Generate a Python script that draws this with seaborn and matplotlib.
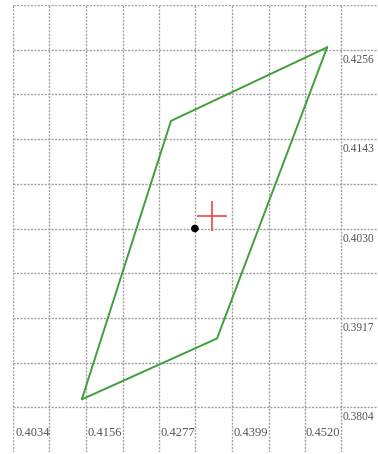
import numpy as np
import pandas as pd
import matplotlib
matplotlib.use("Agg")
import matplotlib.pyplot as plt
import seaborn as sns

# polygon outline (closed)
poly_x = [0.4559, 0.4298, 0.4149, 0.4375, 0.4559]
poly_y = [0.4259, 0.4166, 0.3814, 0.3891, 0.4259]

# black point and red cross
dot_x, dot_y = [0.4338], [0.4030]
cross_x, cross_y = [0.4366], [0.4046]

# labelled gridlines
x_ticks = [0.4034, 0.4156, 0.4277, 0.4399, 0.4520]
y_ticks = [0.3804, 0.3917, 0.4030, 0.4143, 0.4256]

sns.set_theme(style="white")
plt.rcParams['font.family'] = ['Liberation Serif', 'DejaVu Serif']

fig = plt.figure(figsize=(3.78, 4.54), dpi=100)
ax = fig.add_axes([13 / 378, 2 / 454, 365 / 378, 447 / 454])

# grid every half label step
dx = (x_ticks[1] - x_ticks[0]) / 2
dy = (y_ticks[1] - y_ticks[0]) / 2
x0 = x_ticks[0]
y0 = y_ticks[0] - dy
ax.set_xlim(x0, x0 + 10 * dx)
ax.set_ylim(y0, y0 + 10 * dy)
ax.set_xticks([x0 + i * dx for i in range(10)])
ax.set_yticks([y0 + i * dy for i in range(1, 11)])
ax.tick_params(left=False, bottom=False, labelleft=False, labelbottom=False)
ax.grid(True, color="#a0a0a0", linestyle=(0, (1.5, 1)), linewidth=1.0)
for s in ax.spines.values():
    s.set_visible(False)

df = pd.DataFrame({"x": poly_x, "y": poly_y})
sns.lineplot(data=df, x="x", y="y", sort=False, estimator=None,
             color="#3f9f3a", linewidth=1.4, ax=ax)
sns.scatterplot(x=dot_x, y=dot_y, color="black", s=30, edgecolor="none", ax=ax, zorder=5)
ax.plot(cross_x, cross_y, marker="+", color="#e84848", markersize=21,
        markeredgewidth=1.2, linestyle="none", zorder=5)

for xt in x_ticks:
    ax.annotate(f"{xt:.4f}", xy=(xt, y_ticks[0]), xytext=(2, -26),
                textcoords="offset pixels", ha="left", va="center",
                fontsize=9, color="#555555")
x_right = x0 + 9 * dx
for yt in y_ticks:
    ax.annotate(f"{yt:.4f}", xy=(x_right, yt), xytext=(1.5, -10),
                textcoords="offset pixels", ha="left", va="center",
                fontsize=8.3, color="#555555")

ax.set_xlabel("")
ax.set_ylabel("")
fig.savefig("out.png", dpi=100)
